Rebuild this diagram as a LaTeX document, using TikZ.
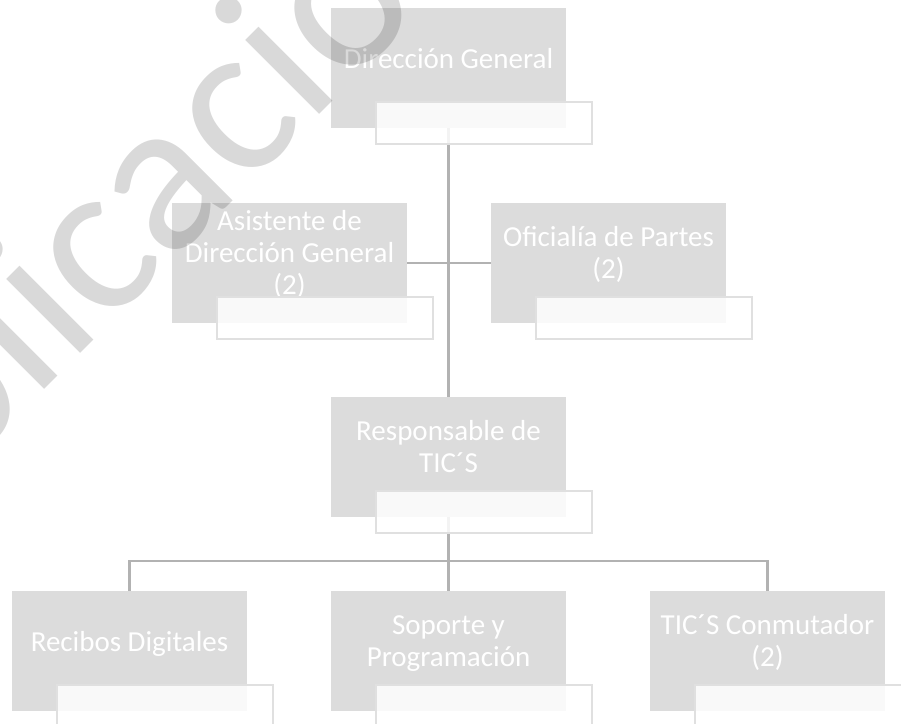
\documentclass[tikz,border=0pt]{standalone}
\usepackage{fontspec}
\setmainfont{Carlito}
\usepackage{tikz}
\definecolor{cajagris}{RGB}{220,220,220}
\definecolor{lineagris}{RGB}{178,178,178}
\definecolor{bordegris}{RGB}{224,224,224}
\tikzset{
  puesto/.style = {fill = cajagris, minimum width = 235pt, minimum height = 120pt, inner sep = 0pt},
  ficha/.style = {fill = white, fill opacity = 0.85, draw = bordegris, line width = 2pt,
    minimum width = 216pt, minimum height = 42pt, inner sep = 0pt},
  rotulo/.style = {text = white, align = center, inner sep = 0pt,
    font = \fontsize{29}{32}\selectfont,
    execute at begin node = \strut, execute at end node = \strut},
  enlace/.style = {draw = lineagris, line width = 2.5pt},
  sello/.style = {text = black, text opacity = 0.15, inner sep = 0pt,
    font = \fontsize{219}{219}\selectfont}
}

\begin{document}
\begin{tikzpicture}[x = 1pt, y = 1pt]
\useasboundingbox (0,0) rectangle (901,723);
\clip (0,0) rectangle (901,723);
% puestos
\node[puesto] (dg) at (448.5,655) {};
\node[puesto] (asis) at (289.5,460) {};
\node[puesto] (ofic) at (608.5,460) {};
\node[puesto] (resp) at (448.5,266) {};
\node[puesto] (rec) at (129.5,72) {};
\node[puesto] (sop) at (448.5,72) {};
\node[puesto] (tic) at (767.5,72) {};
% lineas
\coordinate (barra) at (448.5,162);
\draw[enlace] (dg.south) -- (resp.north);
\draw[enlace] (asis.east) -- (ofic.west);
\draw[enlace] (resp.south) -- (sop.north);
\draw[enlace] (rec.north) |- (barra) -| (tic.north);
% textos
\node[rotulo] (dg-t) at ([yshift = 5.5pt]dg.center) {Dirección General};
\node[rotulo] (asis-t) at ([yshift = 5.5pt]asis.center) {Asistente de\\Dirección General\\(2)};
\node[rotulo] (ofic-t) at ([yshift = 5.5pt]ofic.center) {Oficialía de Partes\\(2)};
\node[rotulo] (resp-t) at ([yshift = 5.5pt]resp.center) {Responsable de\\TIC´S};
\node[rotulo] (rec-t) at ([yshift = 5.5pt]rec.center) {Recibos Digitales};
\node[rotulo] (sop-t) at ([yshift = 5.5pt]sop.center) {Soporte y\\Programación};
\node[rotulo] (tic-t) at ([yshift = 5.5pt]tic.center) {TIC´S Conmutador\\(2)};
% fichas
\node[ficha] (dg-f) at ([shift = {(35.5,-55)}]dg.center) {};
\node[ficha] (asis-f) at ([shift = {(35.5,-55)}]asis.center) {};
\node[ficha] (ofic-f) at ([shift = {(35.5,-55)}]ofic.center) {};
\node[ficha] (resp-f) at ([shift = {(35.5,-55)}]resp.center) {};
\node[ficha] (rec-f) at ([shift = {(35.5,-55)}]rec.center) {};
\node[ficha] (sop-f) at ([shift = {(35.5,-55)}]sop.center) {};
\node[ficha] (tic-f) at ([shift = {(35.5,-55)}]tic.center) {};
% marca de agua
\node[sello, anchor = base west, rotate = 45] (marca) at (-209,80) {Publicación};
\end{tikzpicture}
\end{document}
